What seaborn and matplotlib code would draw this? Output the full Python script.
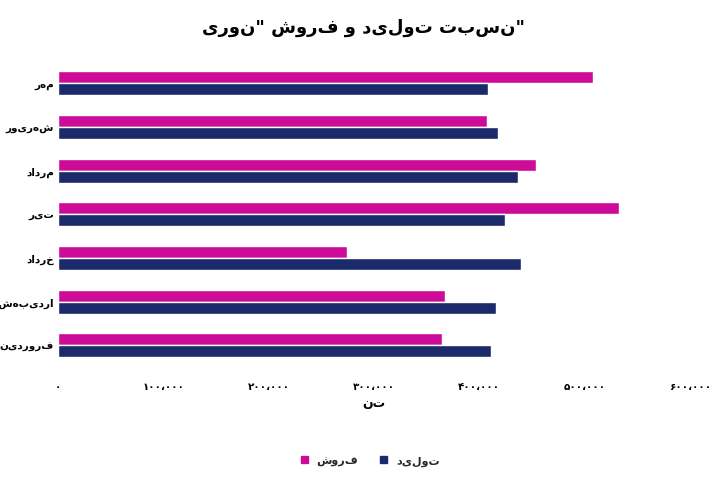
import matplotlib
matplotlib.use("Agg")
import matplotlib.pyplot as plt
from matplotlib.patches import Patch
import pandas as pd
import seaborn as sns

try:
    import arabic_reshaper
    from bidi.algorithm import get_display

    def fa(s):
        return get_display(arabic_reshaper.reshape(s))
except ImportError:
    def fa(s):
        # no shaping available: at least reverse for right-to-left display
        return s[::-1]

months = ["مهر", "شهریور", "مرداد", "تیر", "خرداد", "اردیبهشت", "فروردین"]
sales = [508000, 407000, 454000, 533000, 274000, 368000, 365000]
production = [408000, 418000, 437000, 425000, 440000, 416000, 411000]
ticks = [0, 100000, 200000, 300000, 400000, 500000, 600000]
tick_labels = ["۰", "۱۰۰،۰۰۰", "۲۰۰،۰۰۰", "۳۰۰،۰۰۰", "۴۰۰،۰۰۰", "۵۰۰،۰۰۰", "۶۰۰،۰۰۰"]

sns.set_theme(style="white")
plt.rcParams["font.family"] = ["DejaVu Sans"]

df = pd.DataFrame({
    "month": months * 2,
    "value": sales + production,
    "series": ["فروش"] * len(months) + ["تولید"] * len(months),
})

fig = plt.figure(figsize=(7.26, 4.81), dpi=100)
ax = fig.add_axes([0.08, 0.235, 0.87, 0.635])
sns.barplot(data=df, y="month", x="value", hue="series", orient="h",
            palette={"فروش": "#CC0C99", "تولید": "#1B2A6B"},
            hue_order=["فروش", "تولید"], order=months, width=0.55, ax=ax,
            saturation=1, legend=False)

ax.set_xlim(0, 600000)
ax.set_xticks(ticks)
ax.set_xticklabels(tick_labels, fontsize=7.5, fontweight="bold", color="black")
ax.set_yticks(range(len(months)))
ax.set_yticklabels([fa(m) for m in months], fontsize=7.5, fontweight="bold", color="black")
ax.tick_params(axis="y", length=0, pad=3)
ax.tick_params(axis="x", length=0, pad=10)
ax.set_ylabel("")
ax.set_xlabel(fa("تن"), fontsize=9, fontweight="bold", color="black")
for s in ax.spines.values():
    s.set_visible(False)

fig.suptitle(fa('"نسبت تولید و فروش "نوری'), y=0.96, fontsize=13,
             fontweight="bold", color="black")

handles = [Patch(color="#CC0C99", label=fa("فروش")), Patch(color="#1B2A6B", label=fa("تولید"))]
fig.legend(handles=handles, loc="center", bbox_to_anchor=(0.51, 0.04), ncol=2,
           frameon=False, handlelength=0.6, handleheight=0.6,
           prop={"weight": "bold", "size": 8})

fig.savefig("out.png", dpi=100)
